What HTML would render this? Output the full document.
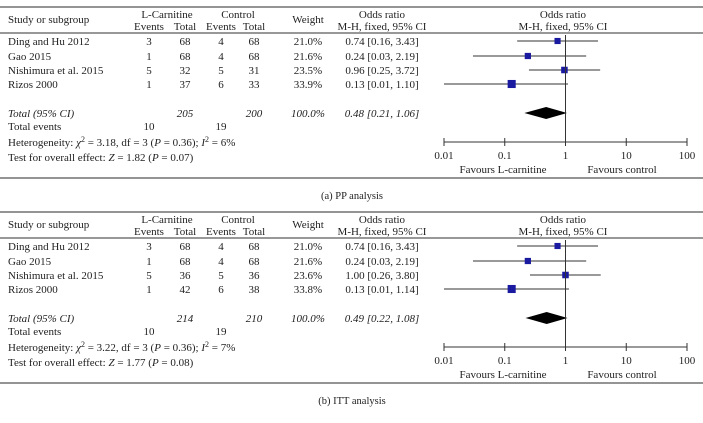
<!DOCTYPE html>
<html><head><meta charset="utf-8"><style>
body{margin:0;background:#fff;}
svg{display:block;font-family:"Liberation Serif",serif;font-size:11px;fill:#222;}
</style></head><body>
<svg id="c" width="703" height="423" viewBox="0 0 703 423" xmlns="http://www.w3.org/2000/svg"></svg>
<script>
const studies = ["Ding and Hu 2012","Gao 2015","Nishimura et al. 2015","Rizos 2000"];
const ppEvL = [3,1,5,1], ppTotL=[68,68,32,37], ppEvC=[4,4,5,6], ppTotC=[68,68,31,33];
const ppWeight = [21.0,21.6,23.5,33.9];
const ppOR = [0.74,0.24,0.96,0.13], ppLo=[0.16,0.03,0.25,0.01], ppHi=[3.43,2.19,3.72,1.10];
const ppTotal = [0.48,0.21,1.06];
const ittEvL = [3,1,5,1], ittTotL=[68,68,36,42], ittEvC=[4,4,5,6], ittTotC=[68,68,36,38];
const ittWeight = [21.0,21.6,23.6,33.8];
const ittOR = [0.74,0.24,1.00,0.13], ittLo=[0.16,0.03,0.26,0.01], ittHi=[3.43,2.19,3.80,1.14];
const ittTotal = [0.49,0.22,1.08];
const tickVals = [0.01,0.1,1,10,100];
const tickLabels = ["0.01","0.1","1","10","100"];

const svg=document.getElementById('c');
const NS='http://www.w3.org/2000/svg';
function el(tag,attrs,text){const e=document.createElementNS(NS,tag);for(const k in attrs)e.setAttribute(k,attrs[k]);if(text!==undefined)e.textContent=text;svg.appendChild(e);return e;}
const xS=v=>444+(Math.log10(v)+2)*60.75;
const f2=v=>v.toFixed(2);

function panel(oy,evL,totL,evC,totC,w,or,lo,hi,tot,sumL,sumC,het,test,caption,key){
  let l=el('line',{x1:0,x2:703,y1:oy+7,y2:oy+7,stroke:'#555','stroke-width':1.2});
  
  l=el('line',{x1:0,x2:703,y1:oy+33,y2:oy+33,stroke:'#777','stroke-width':1.5});
  
  l=el('line',{x1:0,x2:703,y1:oy+178,y2:oy+178,stroke:'#555','stroke-width':1.2});
  
  const hdr=[["Study or subgroup",8,oy+23,'start'],["L-Carnitine",167,oy+18,'middle'],["Events",149,oy+30,'middle'],["Total",185,oy+30,'middle'],
    ["Control",238,oy+18,'middle'],["Events",221,oy+30,'middle'],["Total",254,oy+30,'middle'],["Weight",308,oy+23,'middle'],
    ["Odds ratio",382,oy+18,'middle'],["M-H, fixed, 95% CI",382,oy+30,'middle'],["Odds ratio",563,oy+18,'middle'],["M-H, fixed, 95% CI",563,oy+30,'middle']];
  hdr.forEach(h=>{const t=el('text',{x:h[1],y:h[2],'text-anchor':h[3]},h[0]);
    });
  const rowY=[oy+45,oy+60,oy+74,oy+88];
  studies.forEach((s,i)=>{
    const y=rowY[i];
    let t=el('text',{x:8,y:y},s);
    [[evL[i],149],[totL[i],185],[evC[i],221],[totC[i],254],[w[i].toFixed(1)+'%',308]].forEach(c=>{
      const tt=el('text',{x:c[1],y:y,'text-anchor':'middle'},c[0]);
      });
    t=el('text',{x:382,y:y,'text-anchor':'middle'},f2(or[i])+' ['+f2(lo[i])+', '+f2(hi[i])+']');
    
    const cy=y-4;
    let ci=el('line',{x1:xS(lo[i]),x2:xS(hi[i]),y1:cy,y2:cy,stroke:'#333','stroke-width':1});
    
    const sz=3+w[i]*0.15;
    let m=el('rect',{x:xS(or[i])-sz/2,y:cy-sz/2,width:sz,height:sz,fill:'#1a1aa0'});
    
  });
  const ty=oy+117;
  [["Total (95% CI)",8,'start'],[sumL,185,'middle'],[sumC,254,'middle'],["100.0%",308,'middle'],
   [f2(tot[0])+' ['+f2(tot[1])+', '+f2(tot[2])+']',382,'middle']].forEach(c=>{
    const t=el('text',{x:c[1],y:ty,'text-anchor':c[2],'font-style':'italic'},c[0]);
    });
  const dy=ty-4;
  let d=el('polygon',{points:`${xS(tot[1])},${dy} ${xS(tot[0])},${dy-6} ${xS(tot[2])},${dy} ${xS(tot[0])},${dy+6}`,fill:'#000'});
  
  [["Total events",8,'start'],["10",149,'middle'],["19",221,'middle']].forEach(c=>{
    const t=el('text',{x:c[1],y:oy+130,'text-anchor':c[2]},c[0]);
    });
  let h=el('text',{x:8,y:oy+146});h.innerHTML=het;
  h=el('text',{x:8,y:oy+161});h.innerHTML=test;
  // axis
  const ay=oy+142;
  let v=el('line',{x1:xS(1),x2:xS(1),y1:oy+35,y2:ay,stroke:'#333','stroke-width':1});
  
  let a=el('line',{x1:xS(0.01),x2:xS(100),y1:ay,y2:ay,stroke:'#333','stroke-width':1});
  
  tickVals.forEach((tv,i)=>{
    const tk=el('line',{x1:xS(tv),x2:xS(tv),y1:ay-4,y2:ay+4,stroke:'#333'});
    
    const lb=el('text',{x:xS(tv),y:ay+17,'text-anchor':'middle'},tickLabels[i]);
    
  });
  let fl=el('text',{x:503,y:oy+173,'text-anchor':'middle'},"Favours L-carnitine");
  
  fl=el('text',{x:622,y:oy+173,'text-anchor':'middle'},"Favours control");
  
  let cp=el('text',{x:352,y:oy+199,'text-anchor':'middle','font-size':'10.5'},caption);
  
}
panel(0,ppEvL,ppTotL,ppEvC,ppTotC,ppWeight,ppOR,ppLo,ppHi,ppTotal,"205","200",
 'Heterogeneity: <tspan font-style="italic">χ</tspan><tspan dy="-4" font-size="8">2</tspan><tspan dy="4"> = 3.18, df = 3 (</tspan><tspan font-style="italic">P</tspan> = 0.36); <tspan font-style="italic">I</tspan><tspan dy="-4" font-size="8">2</tspan><tspan dy="4"> = 6%</tspan>',
 'Test for overall effect: <tspan font-style="italic">Z</tspan> = 1.82 (<tspan font-style="italic">P</tspan> = 0.07)',"(a)  PP analysis","pp");
panel(205,ittEvL,ittTotL,ittEvC,ittTotC,ittWeight,ittOR,ittLo,ittHi,ittTotal,"214","210",
 'Heterogeneity: <tspan font-style="italic">χ</tspan><tspan dy="-4" font-size="8">2</tspan><tspan dy="4"> = 3.22, df = 3 (</tspan><tspan font-style="italic">P</tspan> = 0.36); <tspan font-style="italic">I</tspan><tspan dy="-4" font-size="8">2</tspan><tspan dy="4"> = 7%</tspan>',
 'Test for overall effect: <tspan font-style="italic">Z</tspan> = 1.77 (<tspan font-style="italic">P</tspan> = 0.08)',"(b)  ITT analysis","itt");
</script>
</body></html>
